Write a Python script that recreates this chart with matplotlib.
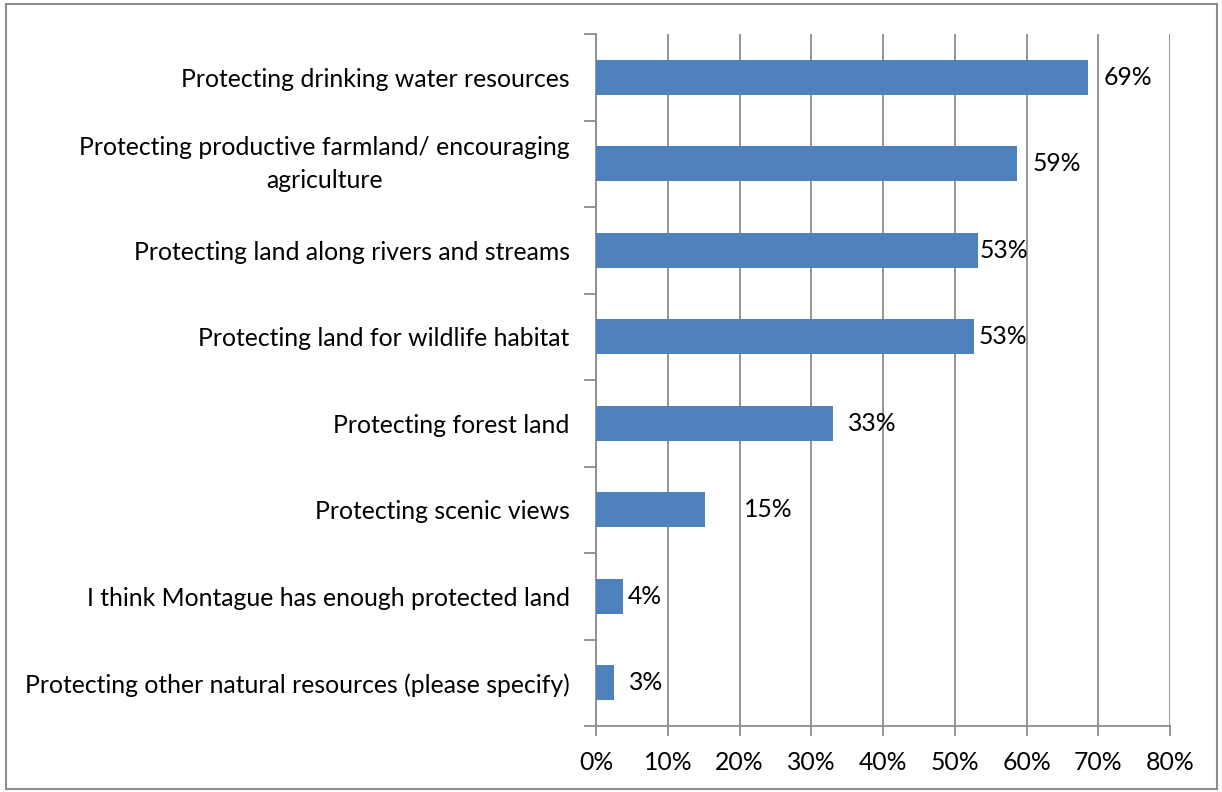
import matplotlib.pyplot as plt
from matplotlib.patches import Rectangle

categories = [
    "Protecting drinking water resources",
    "Protecting productive farmland/ encouraging\nagriculture",
    "Protecting land along rivers and streams",
    "Protecting land for wildlife habitat",
    "Protecting forest land",
    "Protecting scenic views",
    "I think Montague has enough protected land",
    "Protecting other natural resources (please specify)",
]
values = [68.6, 58.7, 53.2, 52.7, 33.0, 15.2, 3.8, 2.5]
value_labels = ["69%", "59%", "53%", "53%", "33%", "15%", "4%", "3%"]
xticks = [0, 10, 20, 30, 40, 50, 60, 70, 80]

# label nudges (points) – the original labels were dragged around by hand
label_offsets = [11, 11, 1, 3, 11, 28, 3, 11]

plt.rcParams["font.family"] = ["Lato", "DejaVu Sans"]
FS = 17.8

fig = plt.figure(figsize=(12.22, 7.92), dpi=100)
ax = fig.add_axes([596 / 1222, 66 / 792, 574 / 1222, 692 / 792])

grid_c = "#8c8c8c"
n = len(categories)
ypos = list(range(n))
ax.barh(ypos, values, height=0.4, color="#4F81BD", zorder=3)
for y, v, lab, off in zip(ypos, values, value_labels, label_offsets):
    ax.annotate(lab, (v, y), xytext=(off, 0), textcoords="offset points",
                va="center", ha="left", fontsize=FS, color="black", zorder=4)

ax.set_ylim(n - 0.5, -0.5)
ax.set_xlim(0, 80)
ax.set_xticks(xticks)
ax.set_xticklabels([f"{t}%" for t in xticks], fontsize=FS)
ax.set_yticks([y - 0.5 for y in range(n + 1)])
ax.set_yticklabels([])
ax.set_yticks(ypos, minor=True)
ax.set_yticklabels(categories, minor=True, fontsize=FS, ha="right")
ax.tick_params(axis="y", which="minor", length=0, pad=19)
ax.tick_params(axis="y", which="major", length=9, color=grid_c, width=1.3)
ax.tick_params(axis="x", length=7, color=grid_c, width=1.3, pad=11)
for lab in ax.get_yticklabels(minor=True):
    lab.set_multialignment("center")
    if "\n" in lab.get_text():
        lab.set_linespacing(1.55)
        lab.set_verticalalignment("center")

ax.grid(axis="x", color=grid_c, lw=1.3, zorder=0)
for s in ["top", "right"]:
    ax.spines[s].set_visible(False)
for s in ["left", "bottom"]:
    ax.spines[s].set_color(grid_c)
    ax.spines[s].set_linewidth(1.3)

fig.patches.append(Rectangle((6 / 1222, 3 / 792), 1211 / 1222, 785 / 792,
                             transform=fig.transFigure, fill=False,
                             edgecolor="#8c8c8c", lw=1.5))

fig.savefig("out.png", dpi=100)
